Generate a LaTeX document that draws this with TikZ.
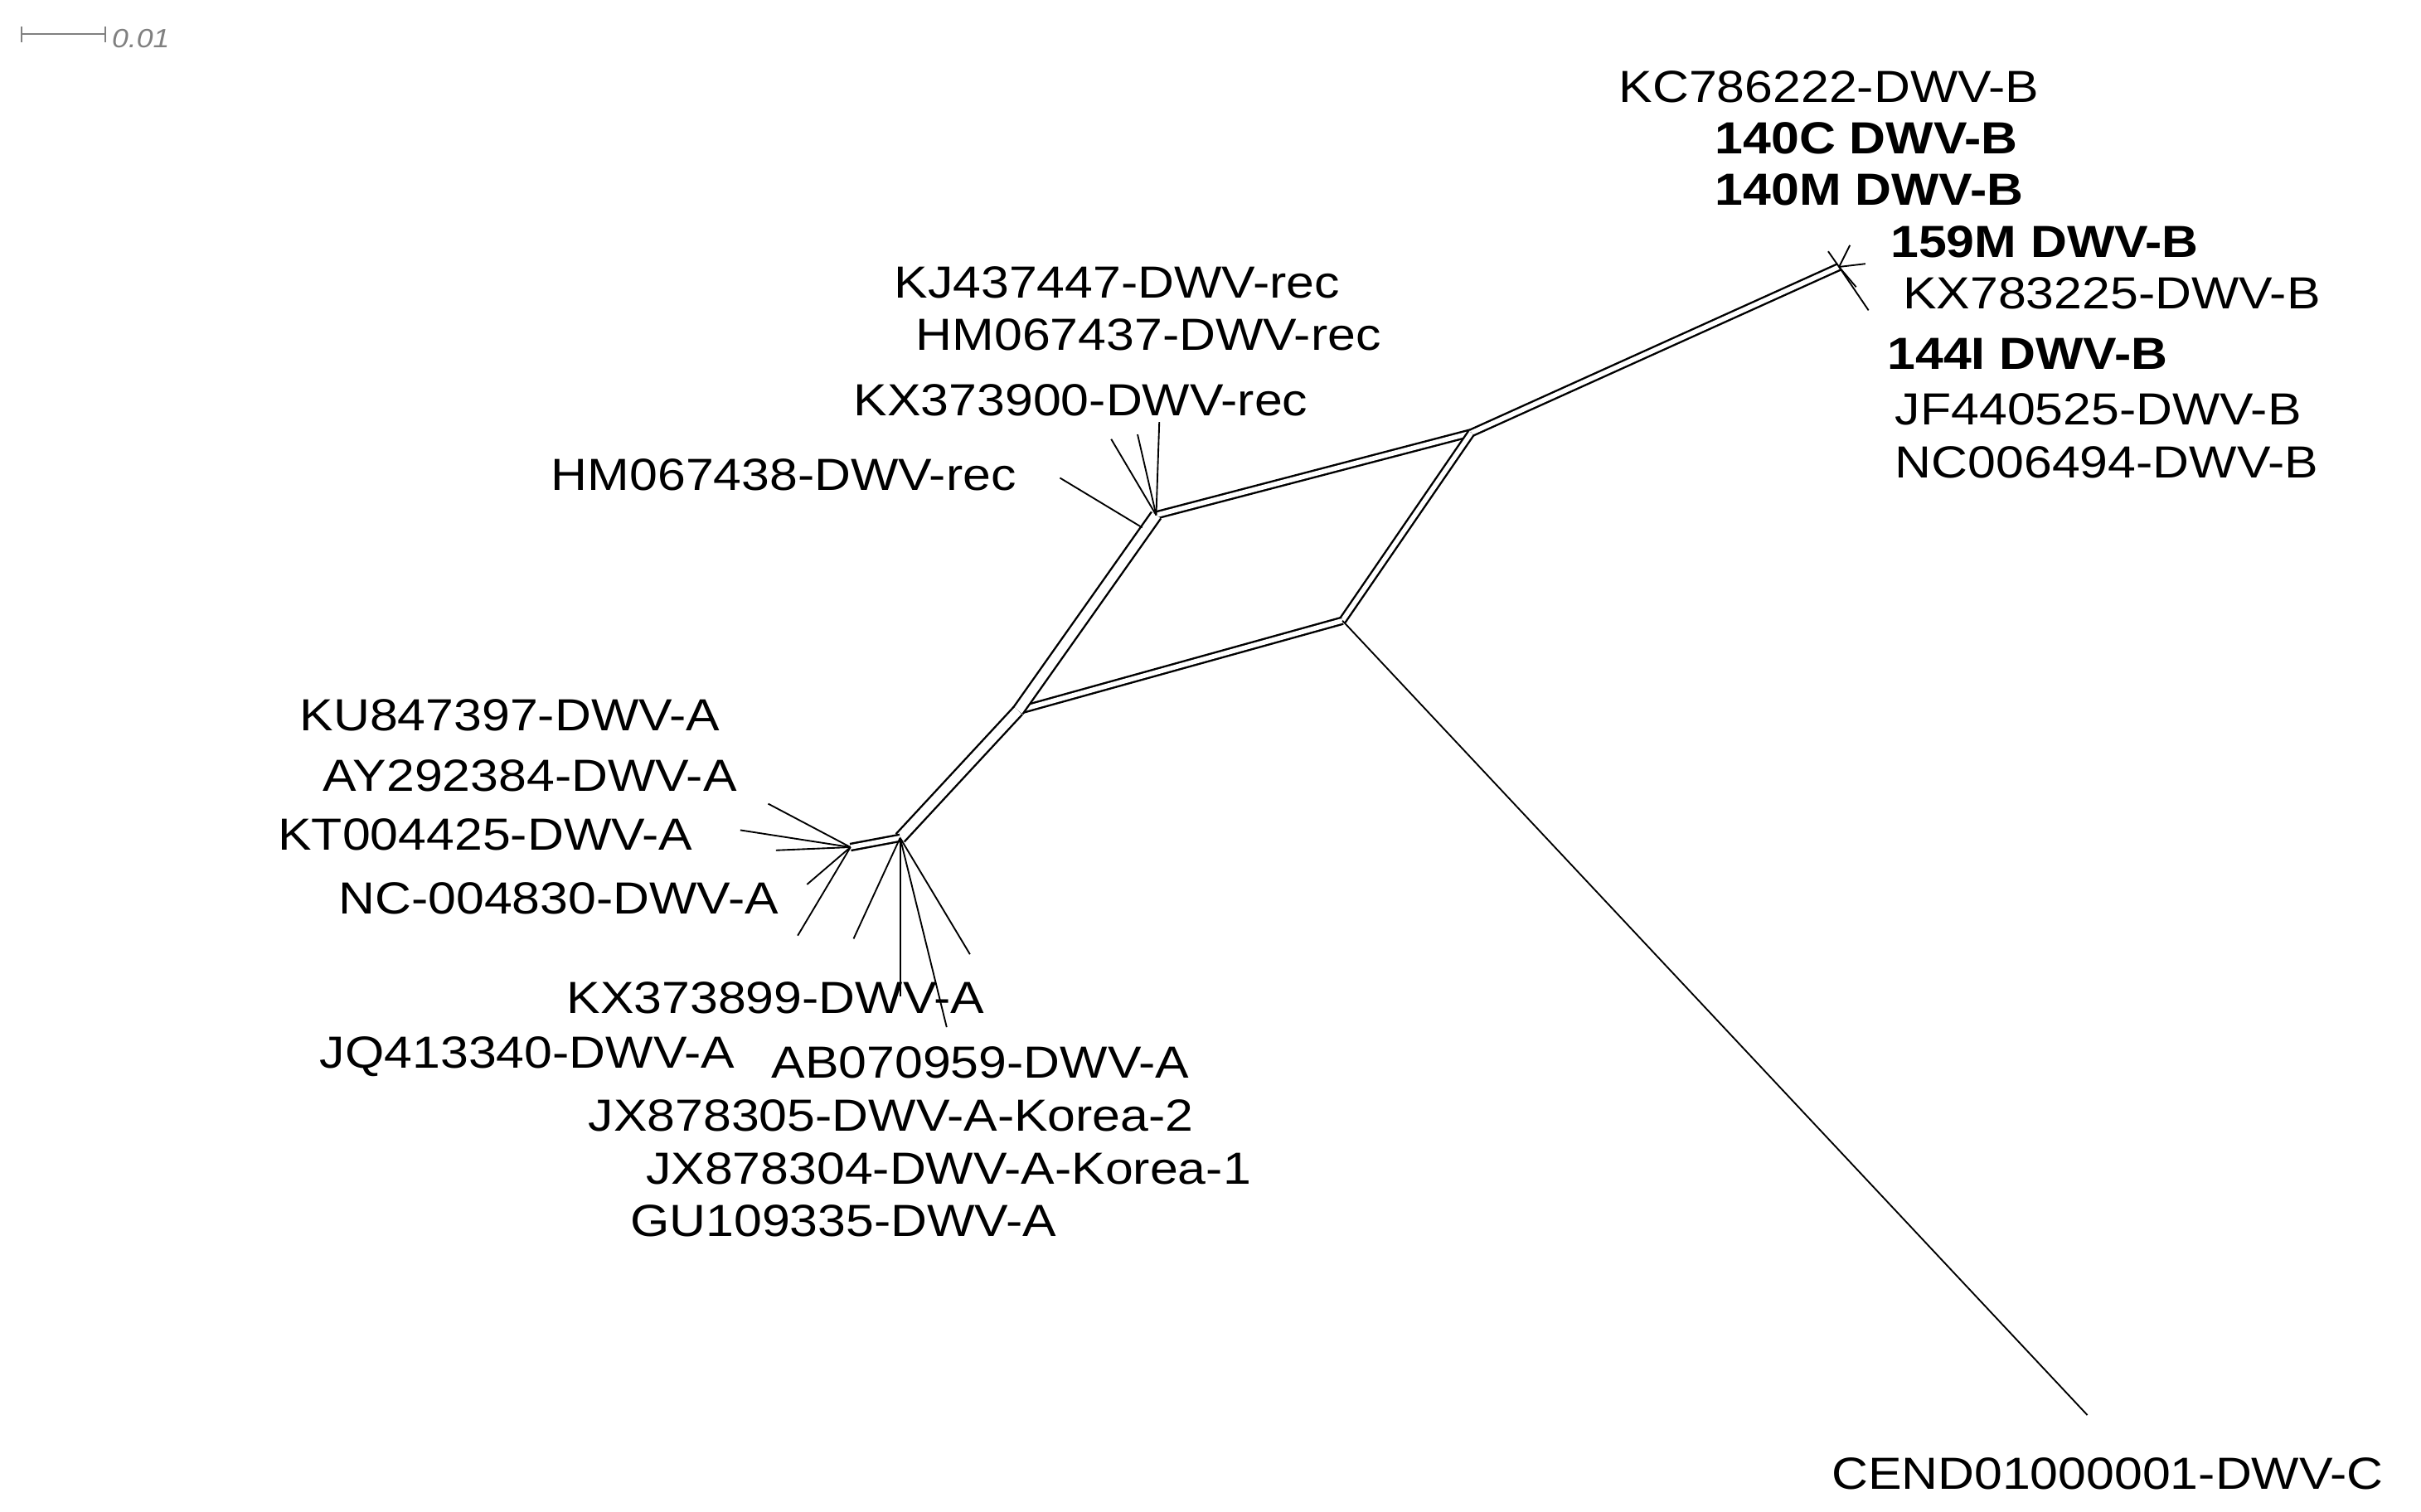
\documentclass[tikz,border=0pt]{standalone}
\usepackage{fontspec}
\setmainfont{Liberation Sans}[FakeStretch=1.12]
\begin{document}
\begin{tikzpicture}[x=1pt,y=-1pt,
  lab/.style={anchor=west,inner sep=0pt,font=\fontsize{29}{31}\selectfont},
  blab/.style={lab,font=\fontsize{29}{31}\selectfont\bfseries},
  split/.style={line width=1.3pt,double distance=3pt,double=white},
  wide/.style={line width=1.3pt,double distance=6pt,double=white},
  leaf/.style={line width=1pt}]
\useasboundingbox (0,0) rectangle (1560,974);
% scale bar
\coordinate (s1) at (14,22); \coordinate (s2) at (68,22);
\draw[gray,line width=1pt] (s1) -- (s2) (14,17) -- (14,27) (68,17) -- (68,27);
\node[anchor=west,inner sep=0pt,gray,font=\fontsize{17}{18}\selectfont\itshape] (sb) at (72,25) {0.01};
% internal nodes
\coordinate (Bt) at (1185,172);
\coordinate (Bc) at (948,279);
\coordinate (R) at (745,332);
\coordinate (D) at (865,400);
\coordinate (L) at (656,458);
\coordinate (A) at (580,540);
\coordinate (A2) at (548,546);
\coordinate (Cend) at (1345,912);
% network
\draw[split] (Bc) -- (Bt);
\draw[split] (R) -- (Bc);
\draw[split] (Bc) -- (D);
\draw[split] (L) -- (D);
\draw[wide] (R) -- (L);
\draw[wide] (L) -- (A);
\draw[split] (A) -- (A2);
\draw[leaf] (D) -- (Cend);
% rec leaves
\coordinate (r1) at (683,308); \coordinate (r2) at (716,283);
\coordinate (r3) at (733,280); \coordinate (r4) at (747,272);
\draw[leaf] (736,340) -- (r1);
\foreach \p in {r2,r3,r4} \draw[leaf] (R) -- (\p);
% B leaves
\coordinate (b1) at (1178,162); \coordinate (b2) at (1192,158);
\coordinate (b3) at (1202,170); \coordinate (b4) at (1204,200);
\coordinate (b5) at (1196,185);
\foreach \p in {b1,b2,b3,b4,b5} \draw[leaf] (Bt) -- (\p);
% A leaves
\coordinate (a1) at (495,518); \coordinate (a2) at (477,535);
\coordinate (a3) at (500,548); \coordinate (a4) at (514,603);
\coordinate (a5) at (550,605); \coordinate (a6) at (580,642);
\coordinate (a7) at (610,662); \coordinate (a8) at (625,615);
\coordinate (a9) at (520,570);
\foreach \p in {a1,a2,a3,a4,a9} \draw[leaf] (A2) -- (\p);
\foreach \p in {a5,a6,a7,a8} \draw[leaf] (A) -- (\p);
% labels
\node[lab] (n1) at (1043,56) {KC786222-DWV-B};
\node[blab] (n2) at (1105,89) {140C DWV-B};
\node[blab] (n3) at (1105,122) {140M DWV-B};
\node[blab] (n4) at (1218,156) {159M DWV-B};
\node[lab] (n5) at (1226,189) {KX783225-DWV-B};
\node[blab] (n6) at (1216,228) {144I DWV-B};
\node[lab] (n7) at (1221,264) {JF440525-DWV-B};
\node[lab] (n8) at (1221,298) {NC006494-DWV-B};
\node[lab] (n9) at (576,182) {KJ437447-DWV-rec};
\node[lab] (n10) at (590,216) {HM067437-DWV-rec};
\node[lab] (n11) at (550,258) {KX373900-DWV-rec};
\node[lab] (n12) at (355,306) {HM067438-DWV-rec};
\node[lab] (n13) at (193,461) {KU847397-DWV-A};
\node[lab] (n14) at (208,500) {AY292384-DWV-A};
\node[lab] (n15) at (179,538) {KT004425-DWV-A};
\node[lab] (n16) at (218,579) {NC-004830-DWV-A};
\node[lab] (n17) at (365,643) {KX373899-DWV-A};
\node[lab] (n18) at (206,681) {JQ413340-DWV-A};
\node[lab] (n19) at (497,685) {AB070959-DWV-A};
\node[lab] (n20) at (379,719) {JX878305-DWV-A-Korea-2};
\node[lab] (n21) at (416,753) {JX878304-DWV-A-Korea-1};
\node[lab] (n22) at (406,787) {GU109335-DWV-A};
\node[lab] (n23) at (1180,950) {CEND01000001-DWV-C};
\end{tikzpicture}
\end{document}
